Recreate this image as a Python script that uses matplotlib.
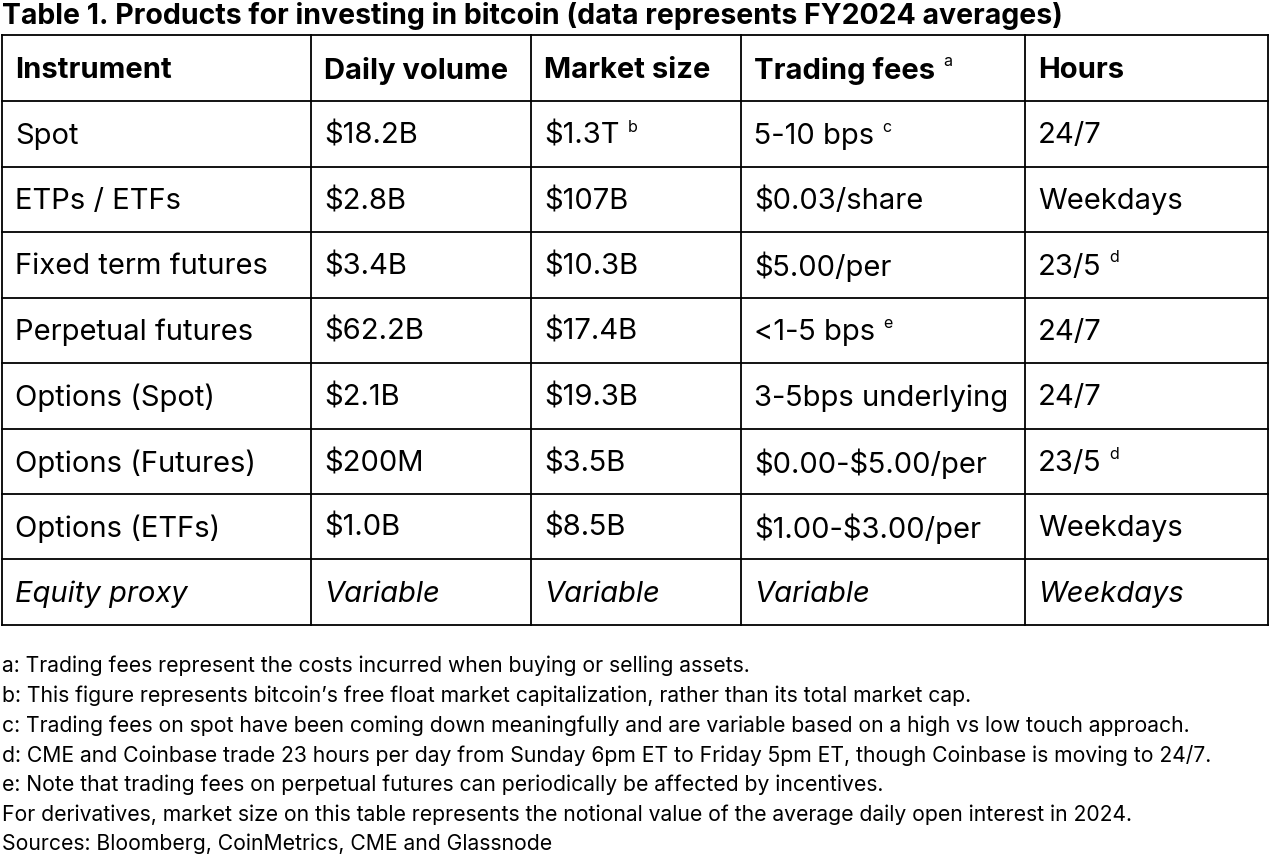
import matplotlib
matplotlib.use("Agg")
import matplotlib.pyplot as plt

title = "Table 1. Products for investing in bitcoin (data represents FY2024 averages)"
headers = ["Instrument", "Daily volume", "Market size", "Trading fees", "Hours"]
header_marks = ["", "", "", "a", ""]
instruments = ["Spot", "ETPs / ETFs", "Fixed term futures", "Perpetual futures",
               "Options (Spot)", "Options (Futures)", "Options (ETFs)", "Equity proxy"]
daily_volume = ["$18.2B", "$2.8B", "$3.4B", "$62.2B", "$2.1B", "$200M", "$1.0B", "Variable"]
market_size = ["$1.3T", "$107B", "$10.3B", "$17.4B", "$19.3B", "$3.5B", "$8.5B", "Variable"]
trading_fees = ["5-10 bps", "$0.03/share", "$5.00/per", "<1-5 bps", "3-5bps underlying",
                "$0.00-$5.00/per", "$1.00-$3.00/per", "Variable"]
hours = ["24/7", "Weekdays", "23/5", "24/7", "24/7", "23/5", "Weekdays", "Weekdays"]
marks = {(0, 2): "b", (0, 3): "c", (2, 4): "d", (3, 3): "e", (5, 4): "d"}
italic_rows = [7]
footnotes = [
    "a: Trading fees represent the costs incurred when buying or selling assets.",
    "b: This figure represents bitcoin\u2019s free float market capitalization, rather than its total market cap.",
    "c: Trading fees on spot have been coming down meaningfully and are variable based on a high vs low touch approach.",
    "d: CME and Coinbase trade 23 hours per day from Sunday 6pm ET to Friday 5pm ET, though Coinbase is moving to 24/7.",
    "e: Note that trading fees on perpetual futures can periodically be affected by incentives.",
    "For derivatives, market size on this table represents the notional value of the average daily open interest in 2024.",
    "Sources: Bloomberg, CoinMetrics, CME and Glassnode",
]

FONT = "Inter"
W, H = 1276, 860
col_x = [2, 311, 531, 741, 1025, 1268]
row_y = [35, 101, 167, 232, 298, 363, 429, 494, 559, 625]

fig = plt.figure(figsize=(W / 100, H / 100), dpi=100)
ax = fig.add_axes([0, 0, 1, 1])
ax.set_xlim(0, W)
ax.set_ylim(H, 0)
ax.axis("off")
fig.canvas.draw()
renderer = fig.canvas.get_renderer()

ax.text(2, 16, title, fontsize=20.5, fontweight="bold", family=FONT, va="center",
        ha="left", parse_math=False)

for x in col_x:
    ax.plot([x, x], [row_y[0], row_y[-1]], color="black", lw=1.3)
for y in row_y:
    ax.plot([col_x[0], col_x[-1]], [y, y], color="black", lw=1.3)

def put(x, y, s, mark, **kw):
    t = ax.text(x, y, s, fontsize=21, family=FONT, va="center", ha="left",
                parse_math=False, **kw)
    if mark:
        bb = t.get_window_extent(renderer=renderer)
        xr = bb.x1 * W / fig.bbox.width
        ax.text(xr + 8, y - 9, mark, fontsize=11.5, family=FONT, va="center", ha="left")

for j, h in enumerate(headers):
    put(col_x[j] + 13, (row_y[0] + row_y[1]) / 2 + 3, h, header_marks[j], fontweight="bold")

cols = [instruments, daily_volume, market_size, trading_fees, hours]
for i in range(len(instruments)):
    yc = (row_y[i + 1] + row_y[i + 2]) / 2 + 2
    style = "italic" if i in italic_rows else "normal"
    for j, c in enumerate(cols):
        put(col_x[j] + 13, yc, c[i], marks.get((i, j), ""), fontstyle=style)

for k, f in enumerate(footnotes):
    ax.text(2, 666 + k * 29.7, f, fontsize=15.2, family=FONT, va="center", ha="left",
            parse_math=False)

fig.savefig("out.png", dpi=100)
